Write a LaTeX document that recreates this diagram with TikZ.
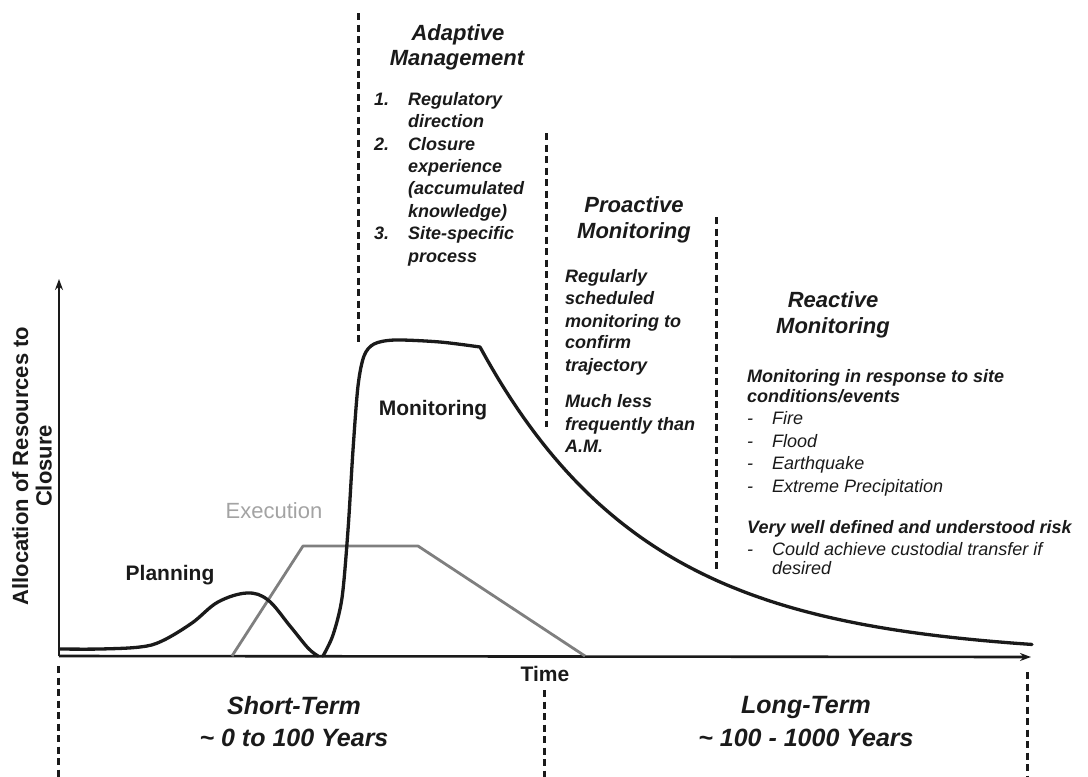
\documentclass[tikz,border=0pt]{standalone}
\usepackage{fontspec}
\setmainfont{Liberation Sans}
\usetikzlibrary{arrows.meta}
\definecolor{execgray}{HTML}{7F7F7F}
\definecolor{execlabel}{HTML}{A3A3A3}
\definecolor{ink}{HTML}{1A1A1A}
\begin{document}
\begin{tikzpicture}[x=1pt,y=-1pt,
  divider/.style={ink, line width=3pt, dash pattern=on 7pt off 4.5pt},
  axis/.style={ink, line width=2.6pt, -{Stealth[length=11pt,width=8pt]}},
  curve/.style={ink, line width=3.3pt, line join=round, line cap=round},
  execline/.style={execgray, line width=2.8pt, line join=round},
  head/.style={ink, font=\fontsize{22}{25}\selectfont\bfseries\itshape, inner sep=0pt, anchor=base},
  body/.style={ink, font=\fontsize{18}{22}\selectfont\bfseries\itshape, inner sep=0pt, anchor=base west},
  item/.style={ink, font=\fontsize{18}{22}\selectfont\itshape, inner sep=0pt, anchor=base west},
  term/.style={ink, font=\fontsize{25}{30}\selectfont\bfseries\itshape, inner sep=0pt, anchor=base},
  phase/.style={ink, font=\fontsize{21}{24}\selectfont\bfseries, inner sep=0pt, anchor=base},
]
\useasboundingbox (0,0) rectangle (1088,777);

% axes
\coordinate (O) at (59,656);
\coordinate (ytop) at (59,279);
\coordinate (xend) at (1031,657);
\draw[axis] (O) -- (ytop);
\draw[axis] (O) -- (xend);

\node[ink, rotate=90, align=center, inner sep=0pt,
      font=\fontsize{22}{23.5}\selectfont\bfseries] (ylab) at (32,466)
      {Allocation of Resources to\\Closure};
\node[phase] (time) at (545,681) {Time};

% phase dividers above the axis
\coordinate (am1) at (358,13);   \coordinate (am2) at (358,343);
\coordinate (pm1) at (546,133);  \coordinate (pm2) at (546,427);
\coordinate (rm1) at (716,217);  \coordinate (rm2) at (716,570);
\draw[divider] (am1) -- (am2);
\draw[divider] (pm1) -- (pm2);
\draw[divider] (rm1) -- (rm2);

% term dividers below the axis
\coordinate (t1a) at (58,666);   \coordinate (t1b) at (58,777);
\coordinate (t2a) at (544,690);  \coordinate (t2b) at (544,777);
\coordinate (t3a) at (1027,672); \coordinate (t3b) at (1027,777);
\draw[divider] (t1a) -- (t1b);
\draw[divider] (t2a) -- (t2b);
\draw[divider] (t3a) -- (t3b);

% execution effort
\coordinate (e1) at (232,656);
\coordinate (e2) at (303,546);
\coordinate (e3) at (418,546);
\coordinate (e4) at (585,656);
\draw[execline] (e1) -- (e2) -- (e3) -- (e4);

% planning effort
\draw[curve] plot[smooth, tension=0.6] coordinates
  {(60,649) (100,649) (140,647) (162,641) (192,623) (218,602) (247,593)
   (268,600) (290,626) (308,648) (318,656)};

% monitoring effort
\draw[curve] plot[smooth, tension=0.5] coordinates
  {(323,656) (333,635) (342,598) (348,530) (353,450) (358,386) (364,356)
   (374,344) (395,340) (440,342) (480,347)}
  -- plot[domain=480:1032, samples=90] (\x,{656-309*exp(-(\x-480)/168)});

% curve labels
\node[phase] (plan) at (170,580) {Planning};
\node[phase, execlabel, font=\fontsize{22}{24}\selectfont] (exec) at (274,518) {Execution};
\node[phase] (mon) at (433,415) {Monitoring};

% adaptive management
\node[head] (amh1) at (458,40) {Adaptive};
\node[head] (amh2) at (457,65) {Management};
\node[body] (n1) at (374,105) {1.};
\node[body] (n2) at (374,150) {2.};
\node[body] (n3) at (374,239) {3.};
\node[body] (a1) at (408,105) {Regulatory};
\node[body] (a2) at (408,127) {direction};
\node[body] (a3) at (408,150) {Closure};
\node[body] (a4) at (408,172) {experience};
\node[body] (a5) at (408,194) {(accumulated};
\node[body] (a6) at (408,217) {knowledge)};
\node[body] (a7) at (408,239) {Site-specific};
\node[body] (a8) at (408,262) {process};

% proactive monitoring
\node[head] (pmh1) at (634,212) {Proactive};
\node[head] (pmh2) at (634,238) {Monitoring};
\node[body] (p1) at (565,282) {Regularly};
\node[body] (p2) at (565,304) {scheduled};
\node[body] (p3) at (565,327) {monitoring to};
\node[body] (p4) at (565,348) {confirm};
\node[body] (p5) at (565,371) {trajectory};
\node[body] (p6) at (565,407) {Much less};
\node[body] (p7) at (565,430) {frequently than};
\node[body] (p8) at (565,452) {A.M.};

% reactive monitoring
\node[head] (rmh1) at (833,307) {Reactive};
\node[head] (rmh2) at (833,333) {Monitoring};
\node[body] (r1) at (747,382) {Monitoring in response to site};
\node[body] (r2) at (747,402) {conditions/events};
\node[item] (d1) at (747,424) {-};
\node[item] (d2) at (747,447) {-};
\node[item] (d3) at (747,469) {-};
\node[item] (d4) at (747,492) {-};
\node[item] (i1) at (772,424) {Fire};
\node[item] (i2) at (772,447) {Flood};
\node[item] (i3) at (772,469) {Earthquake};
\node[item] (i4) at (772,492) {Extreme Precipitation};
\node[body] (r3) at (747,533) {Very well defined and understood risk};
\node[item] (d5) at (747,555) {-};
\node[item] (i5) at (772,555) {Could achieve custodial transfer if};
\node[item] (i6) at (772,574) {desired};

% time horizons
\node[term] (st1) at (294,714) {Short-Term};
\node[term] (st2) at (294,746) {\textasciitilde{} 0 to 100 Years};
\node[term] (lt1) at (806,713) {Long-Term};
\node[term] (lt2) at (806,746) {\textasciitilde{} 100 - 1000 Years};
\end{tikzpicture}
\end{document}
